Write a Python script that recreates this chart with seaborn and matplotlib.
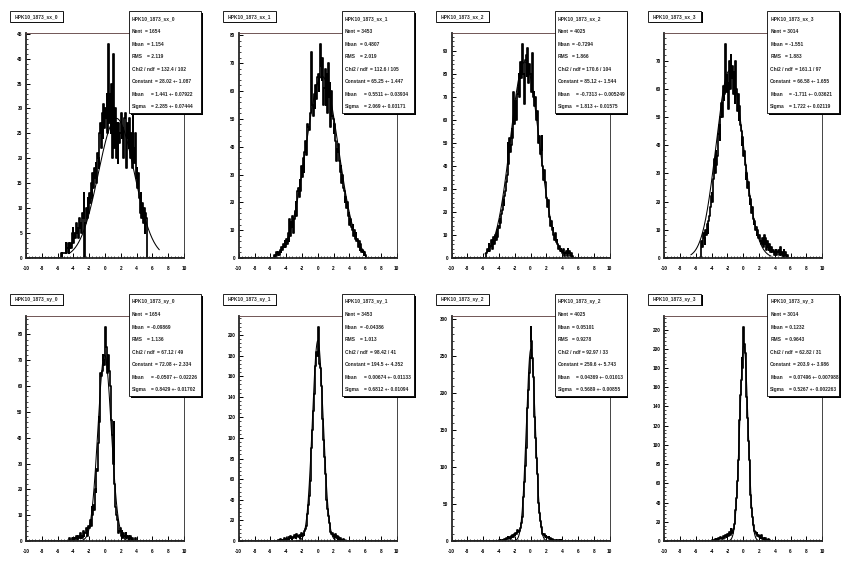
import numpy as np
import pandas as pd
import matplotlib
matplotlib.use("Agg")
import matplotlib.pyplot as plt
import seaborn as sns
from matplotlib.patches import Rectangle
from matplotlib.ticker import MultipleLocator

# ---------------- data ----------------
names = ["HPK10_1873_sx_0", "HPK10_1873_sx_1", "HPK10_1873_sx_2", "HPK10_1873_sx_3",
         "HPK10_1873_sy_0", "HPK10_1873_sy_1", "HPK10_1873_sy_2", "HPK10_1873_sy_3"]
nent = ["1654", "3453", "4025", "3014", "1654", "3453", "4025", "3014"]
hist_mean = ["1.154", "0.4807", "-0.7294", "-1.551", "-0.09869", "-0.04386", "0.05101", "0.1232"]
hist_rms = ["2.119", "2.019", "1.866", "1.883", "1.136", "1.013", "0.9278", "0.9643"]
chi2_ndf = ["132.4 / 102", "112.6 / 105", "170.6 / 104", "161.1 / 97",
            "67.12 / 49", "98.42 / 41", "92.97 / 33", "62.82 / 31"]
const_txt = ["28.02 +- 1.087", "65.25 +- 1.447", "85.12 +- 1.544", "66.58 +- 1.655",
             "72.08 +- 2.334", "194.5 +- 4.352", "259.6 +- 5.743", "203.9 +- 3.986"]
fmean_txt = ["1.441 +- 0.07922", "0.5511 +- 0.03934", "-0.7313 +- 0.005249", "-1.711 +- 0.03621",
             "-0.0507 +- 0.02226", "0.00674 +- 0.01133", "0.04369 +- 0.01013", "0.07496 +- 0.007988"]
fsigma_txt = ["2.285 +- 0.07444", "2.069 +- 0.03171", "1.813 +- 0.01575", "1.722 +- 0.02119",
              "0.8429 +- 0.01702", "0.6812 +- 0.01094", "0.5689 +- 0.00855", "0.5267 +- 0.002263"]

fit_const = [28.02, 65.25, 85.12, 66.58, 72.08, 194.5, 259.6, 203.9]
fit_mean = [1.441, 0.5511, -0.7313, -1.711, -0.0507, 0.00674, 0.04369, 0.07496]
fit_sigma = [2.285, 2.069, 1.813, 1.722, 0.8429, 0.6812, 0.5689, 0.5267]
h_mean = [1.154, 0.4807, -0.7294, -1.551, -0.09869, -0.04386, 0.05101, 0.1232]
h_rms = [2.119, 2.019, 1.866, 1.883, 1.136, 1.013, 0.9278, 0.9643]

# histogram contents (bin width 0.1), first bin lower edge given in *_start
sx0_start = -5.6
sx0 = [1, 0, 1, 1, 1, 1, 3, 1, 2, 3,
       1, 2, 3, 2, 5, 6, 3, 5, 4, 7,
       5, 6, 4, 8, 6, 7, 5, 9, 8, 13,
       0, 7, 10, 8, 12, 9, 13, 11, 15, 12,
       17, 14, 18, 16, 19, 15, 21, 20, 18, 25,
       27, 22, 29, 24, 31, 26, 30, 28, 33, 25,
       43, 27, 33, 25, 35, 20, 41, 38, 22, 30,
       20, 27, 19, 27, 23, 25, 29, 24, 26, 20,
       28, 29, 25, 18, 27, 24, 22, 28, 20, 25,
       18, 32, 22, 19, 25, 16, 18, 14, 17, 12,
       9, 13, 8, 11, 7, 10, 5, 9, 8]

sx1_start = -5.5
sx1 = [1, 0, 2, 1, 1, 2, 1, 3, 2, 4,
       3, 5, 4, 6, 4, 7, 5, 9, 6, 14,
       8, 13, 11, 15, 9, 14, 17, 20, 15, 24,
       25, 22, 28, 24, 33, 29, 36, 31, 38, 42,
       37, 45, 48, 47, 46, 52, 56, 74, 55, 51,
       59, 54, 62, 57, 65, 66, 60, 65, 77, 69,
       64, 72, 55, 61, 68, 55, 66, 52, 70, 58,
       63, 47, 60, 51, 50, 45, 48, 42, 35, 39,
       38, 41, 35, 31, 33, 27, 30, 25, 24, 20,
       22, 18, 20, 15, 16, 12, 14, 11, 10, 12,
       8, 10, 7, 9, 6, 7, 4, 6, 3, 5,
       2, 3, 2, 1, 2, 1]

sx2_start = -5.6
sx2 = [2, 4, 3, 6, 3, 5, 8, 4, 7, 9,
       6, 10, 8, 12, 9, 14, 13, 17, 15, 19,
       21, 25, 23, 27, 29, 33, 36, 50, 41, 52,
       46, 49, 56, 52, 72, 58, 62, 68, 60, 71,
       74, 80, 70, 85, 78, 93, 84, 80, 67, 86,
       88, 79, 91, 76, 84, 80, 76, 72, 89, 70,
       72, 66, 70, 60, 64, 56, 50, 53, 45, 47,
       53, 40, 34, 38, 33, 30, 26, 22, 25, 20,
       18, 14, 16, 12, 13, 10, 8, 11, 7, 8,
       6, 4, 5, 3, 4, 3, 2, 4, 2, 1,
       2, 3, 1, 4, 2, 3, 1, 2, 0, 1]

sx3_start = -5.3
sx3 = [6, 4, 9, 7, 5, 10, 8, 12, 9, 13,
       15, 18, 22, 23, 20, 28, 35, 30, 38, 33,
       36, 44, 47, 42, 50, 55, 50, 61, 56, 58,
       76, 59, 65, 62, 53, 70, 60, 72, 64, 68,
       58, 66, 55, 70, 60, 52, 58, 49, 54, 47,
       45, 40, 43, 36, 38, 33, 28, 30, 25, 27,
       22, 19, 21, 16, 18, 14, 12, 13, 10, 11,
       8, 10, 7, 8, 6, 6, 5, 7, 4, 8,
       5, 7, 3, 6, 4, 3, 5, 2, 4, 3,
       2, 3, 1, 2, 3, 1, 2, 3, 1, 2,
       4, 1, 2, 0, 3, 1, 2, 0, 1, 1]

sy0_start = -4.5
sy0 = [1, 0, 0, 1, 0, 1, 0, 1, 2, 1,
       0, 2, 1, 3, 1, 2, 1, 4, 2, 3,
       3, 5, 2, 4, 6, 5, 8, 6, 13, 10,
       14, 12, 20, 19, 28, 27, 38, 48, 46, 65,
       64, 66, 72, 70, 68, 83, 75, 71, 65, 72,
       66, 60, 53, 47, 41, 30, 46, 22, 13, 10,
       8, 6, 3, 4, 5, 2, 4, 1, 3, 2,
       1, 3, 2, 1, 2, 0, 1, 2, 0, 1,
       1, 0, 0, 1, 0]

sy1_start = -5.0
sy1 = [1, 0, 2, 0, 1, 0, 1, 3, 2, 1,
       2, 1, 4, 2, 3, 5, 3, 2, 4, 3,
       6, 4, 3, 7, 5, 4, 6, 3, 5, 8,
       5, 7, 6, 10, 12, 15, 19, 26, 35, 44,
       58, 72, 90, 108, 126, 143, 159, 170, 183, 180,
       208, 190, 172, 168, 150, 136, 118, 98, 82, 65,
       52, 40, 31, 24, 17, 12, 9, 7, 8, 5,
       6, 4, 7, 3, 5, 2, 4, 1, 3, 2,
       1, 0, 2, 1, 0]

sy2_start = -4.0
sy2 = [1, 0, 2, 1, 0, 2, 1, 3, 2, 4,
       3, 5, 4, 6, 3, 7, 5, 8, 6, 9,
       8, 11, 9, 15, 12, 14, 13, 18, 24, 33,
       45, 60, 80, 102, 126, 152, 180, 205, 228, 248,
       290, 270, 248, 222, 195, 168, 140, 112, 90, 70,
       52, 38, 27, 19, 13, 10, 8, 9, 6, 7,
       5, 6, 4, 5, 3, 4, 2, 3, 2, 1,
       2, 1, 0, 2, 1, 1, 0, 1, 0, 1]

sy3_start = -4.0
sy3 = [0, 1, 1, 0, 2, 1, 2, 1, 3, 2,
       2, 4, 3, 2, 5, 4, 3, 6, 5, 4,
       7, 5, 9, 6, 12, 10, 8, 13, 18, 24,
       32, 45, 62, 84, 108, 126, 152, 168, 190, 180,
       223, 205, 196, 172, 150, 128, 104, 84, 65, 48,
       34, 25, 17, 11, 10, 9, 7, 8, 5, 6,
       4, 5, 3, 6, 2, 3, 2, 1, 3, 1,
       1, 2, 0, 1, 0]

hists = [sx0, sx1, sx2, sx3, sy0, sy1, sy2, sy3]
starts = [sx0_start, sx1_start, sx2_start, sx3_start, sy0_start, sy1_start, sy2_start, sy3_start]
y_major = [5, 10, 10, 10, 10, 20, 50, 20]

# ---------------- style ----------------
sns.set_style("ticks")
plt.rcParams['font.family'] = ['Liberation Sans', 'DejaVu Sans']
plt.rcParams['font.weight'] = 'bold'
plt.rcParams['axes.unicode_minus'] = False

W, H = 851, 566
fig = plt.figure(figsize=(W / 100, H / 100), dpi=100)
fig.patch.set_facecolor("white")

def fx(px):
    return px / W

def fy(py):
    return 1 - py / H

PW, PH = W / 4, 283.0
FS = 3.5
EQ_OFF = [12.6, 14.9, 14.9, 24.8, 22.7, 19.0, 19.0]

for k in range(8):
    r, c = divmod(k, 4)
    X0, Y0 = c * PW, r * PH
    L, R, T, B = X0 + 26, X0 + 184, Y0 + 33, Y0 + 258
    ax = fig.add_axes([fx(L), fy(B), (R - L) / W, (B - T) / H])
    counts = np.array(hists[k], dtype=float)
    centers = starts[k] + 0.05 + 0.1 * np.arange(len(counts))
    df = pd.DataFrame({"x": centers, "w": counts})
    sns.histplot(data=df, x="x", weights="w", binwidth=0.1, binrange=(-10, 10),
                 element="step", fill=False, color="black", linewidth=1.25, ax=ax)
    # gaussian fit curve
    xs = np.linspace(h_mean[k] - 2.7 * h_rms[k], h_mean[k] + 2.7 * h_rms[k], 400)
    ys = fit_const[k] * np.exp(-0.5 * ((xs - fit_mean[k]) / fit_sigma[k]) ** 2)
    sns.lineplot(x=xs, y=ys, color="black", linewidth=0.75, ax=ax, estimator=None, sort=False)

    ax.set_xlim(-10, 10)
    ax.set_ylim(0, 1.05 * counts.max())
    ax.set_xlabel("")
    ax.set_ylabel("")
    ax.xaxis.set_major_locator(MultipleLocator(2))
    ax.xaxis.set_minor_locator(MultipleLocator(0.4))
    ax.yaxis.set_major_locator(MultipleLocator(y_major[k]))
    ax.yaxis.set_minor_locator(MultipleLocator(y_major[k] / 5))
    ax.tick_params(axis="x", which="major", direction="in", length=3.6, width=0.7,
                   labelsize=3.4, pad=5.8, top=False, colors="black")
    ax.tick_params(axis="x", which="minor", direction="in", length=1.8, width=0.6, top=False)
    ax.tick_params(axis="y", which="major", direction="in", length=2.9, width=0.7,
                   labelsize=3.4, pad=2.4, right=False, colors="black")
    ax.tick_params(axis="y", which="minor", direction="in", length=1.4, width=0.6, right=False)
    for lab in ax.get_xticklabels() + ax.get_yticklabels():
        lab.set_fontweight("bold")
    ax.spines["left"].set_linewidth(1.3)
    ax.spines["bottom"].set_linewidth(1.3)
    ax.spines["top"].set_linewidth(0.6)
    ax.spines["top"].set_color("#5a3a3a")
    ax.spines["right"].set_linewidth(0.6)
    for s in ax.spines.values():
        s.set_visible(True)
    ax.set_facecolor("white")

    # title box
    tx0, tx1, ty0, ty1 = X0 + 10, X0 + 63, Y0 + 11, Y0 + 22
    fig.add_artist(Rectangle((fx(tx0 + 1.3), fy(ty1 + 1.3)), (tx1 - tx0) / W, (ty1 - ty0) / H,
                             transform=fig.transFigure, facecolor="black", edgecolor="none", zorder=5))
    fig.add_artist(Rectangle((fx(tx0), fy(ty1)), (tx1 - tx0) / W, (ty1 - ty0) / H,
                             transform=fig.transFigure, facecolor="white", edgecolor="black",
                             linewidth=0.6, zorder=6))
    fig.text(fx((tx0 + tx1) / 2), fy((ty0 + ty1) / 2), names[k], ha="center", va="center",
             fontsize=FS, fontweight="bold", zorder=7)

    # stats box
    sx0_, sx1_, sy0_, sy1_ = X0 + 129, X0 + 201, Y0 + 11, Y0 + 113
    fig.add_artist(Rectangle((fx(sx0_ + 1.8), fy(sy1_ + 1.8)), (sx1_ - sx0_) / W, (sy1_ - sy0_) / H,
                             transform=fig.transFigure, facecolor="black", edgecolor="none", zorder=5))
    fig.add_artist(Rectangle((fx(sx0_), fy(sy1_)), (sx1_ - sx0_) / W, (sy1_ - sy0_) / H,
                             transform=fig.transFigure, facecolor="white", edgecolor="black",
                             linewidth=0.6, zorder=6))
    left_labels = ["Nent", "Mean", "RMS", "Chi2 / ndf", "Constant", "Mean", "Sigma"]
    right_vals = [nent[k], hist_mean[k], hist_rms[k], chi2_ndf[k], const_txt[k], fmean_txt[k], fsigma_txt[k]]
    tx = sx0_ + 3
    fig.text(fx(tx), fy(Y0 + 19), names[k], ha="left", va="center", fontsize=FS,
             fontweight="bold", zorder=7)
    for i in range(7):
        yy = Y0 + 19 + 12.57 * (i + 1)
        fig.text(fx(tx), fy(yy), left_labels[i], ha="left", va="center", fontsize=FS,
                 fontweight="bold", zorder=7)
        fig.text(fx(tx + EQ_OFF[i]), fy(yy), "= " + right_vals[i], ha="left", va="center",
                 fontsize=FS, fontweight="bold", zorder=7)

fig.savefig("out.png", dpi=100, facecolor="white")
